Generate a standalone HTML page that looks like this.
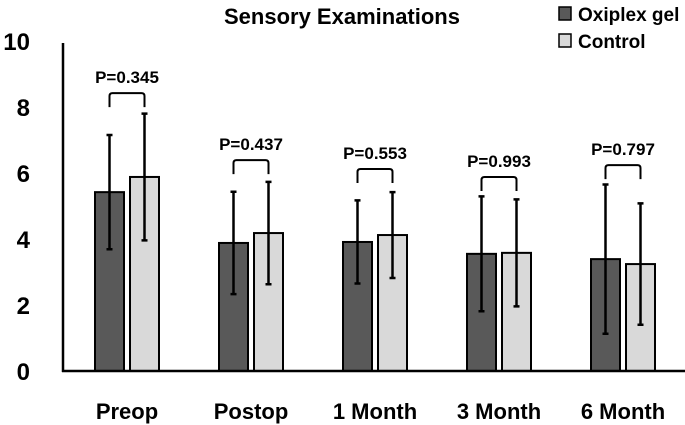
<!DOCTYPE html>
<html><head><meta charset="utf-8"><style>
body{margin:0;background:#fff;}
svg{display:block;font-family:"Liberation Sans",sans-serif;font-weight:bold;}
</style></head><body>
<svg id="chart" width="685" height="425" viewBox="0 0 685 425">
<text x="342" y="24" font-size="22" text-anchor="middle">Sensory Examinations</text>
<g>
<rect x="559" y="7" width="12" height="13" fill="#595959" stroke="#000" stroke-width="1.5"/>
<text x="578" y="21" font-size="19">Oxiplex gel</text>
<rect x="559" y="34" width="12" height="13" fill="#d9d9d9" stroke="#000" stroke-width="1.5"/>
<text x="578" y="48" font-size="19">Control</text>
</g>
<g id="plot"></g>
</svg>
<script>
const categories = ["Preop","Postop","1 Month","3 Month","6 Month"];
const oxiplex = [5.42,3.88,3.91,3.55,3.39];
const oxiplexSd = [1.73,1.55,1.26,1.74,2.26];
const control = [5.88,4.18,4.12,3.58,3.24];
const controlSd = [1.92,1.55,1.30,1.62,1.84];
const pValues = ["P=0.345","P=0.437","P=0.553","P=0.993","P=0.797"];
const bracketY = [8.42,6.39,6.12,5.88,6.24];
const yTicks = [0,2,4,6,8,10];

const NS="http://www.w3.org/2000/svg";
const g=document.getElementById('plot');
const y0=371, y10=41;
function y(v){return y0-(y0-y10)*v/10;}
function xg(i){return 63+64+124*i;}
const barW=29;
function mk(tag,attrs){const e=document.createElementNS(NS,tag);for(const k in attrs)e.setAttribute(k,attrs[k]);g.appendChild(e);return e;}

yTicks.forEach((t,i)=>{
 const e=mk('text',{x:30,y:y(t)+9,'font-size':24,'text-anchor':'end'});
 e.textContent=t;
 
 
});
categories.forEach((c,i)=>{
 const cx=xg(i);
 [[oxiplex,oxiplexSd,'#595959',-1],[control,controlSd,'#d9d9d9',1]].forEach(([vals,sds,col,s],k)=>{
  const bx = s<0 ? cx-3-barW : cx+3;
  const r=mk('rect',{x:bx,y:y(vals[i]),width:barW,height:y(0)-y(vals[i]),fill:col,stroke:'#000','stroke-width':2});
  
  
  const ex=bx+barW/2;
  const eb=mk('path',{d:`M${ex},${y(vals[i]+sds[i])}V${y(vals[i]-sds[i])}M${ex-3},${y(vals[i]+sds[i])}h6M${ex-3},${y(vals[i]-sds[i])}h6`,stroke:'#000','stroke-width':2.5,fill:'none'});
  
  
 });
 const lx=cx-3-barW/2, rx=cx+3+barW/2, by=y(bracketY[i]);
 const br=mk('path',{d:`M${lx},${by+14}V${by+3}Q${lx},${by} ${lx+3},${by}H${rx-3}Q${rx},${by} ${rx},${by+3}V${by+14}`,stroke:'#000','stroke-width':2,fill:'none'});
 
 
 const pt=mk('text',{x:cx,y:by-10,'font-size':17,'text-anchor':'middle'});
 pt.textContent=pValues[i];
 
 
 const xl=mk('text',{x:cx,y:419,'font-size':22,'text-anchor':'middle'});
 xl.textContent=c;
 
 
});
const ya=mk('line',{x1:63,y1:43,x2:63,y2:372,stroke:'#000','stroke-width':2.5});


const xa=mk('line',{x1:62,y1:371,x2:685,y2:371,stroke:'#000','stroke-width':2.5});


</script>
</body></html>
